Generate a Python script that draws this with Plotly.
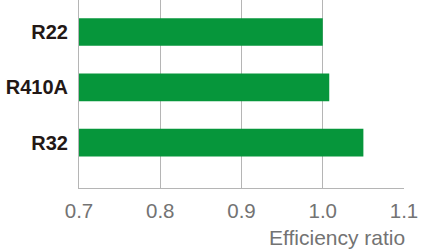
import plotly.graph_objects as go

categories = ["R22", "R410A", "R32"]
values = [1.0, 1.008, 1.05]
x_ticks = [0.7, 0.8, 0.9, 1.0, 1.1]
x_title = "Efficiency ratio"

fig = go.Figure(go.Bar(
    x=values, y=categories, orientation="h",
    marker=dict(color="#06963b", line=dict(width=0)),
    width=0.5,
))

fig.update_layout(
    width=421, height=251,
    margin=dict(l=78.5, r=16.7, t=0, b=62.7),
    plot_bgcolor="white", paper_bgcolor="white",
    showlegend=False,
    xaxis=dict(
        range=[0.7, 1.1], tickvals=x_ticks, ticktext=[f"{v:.1f}" for v in x_ticks],
        showgrid=True, gridcolor="#b5b5b5", gridwidth=1,
        showline=True, linecolor="#b5b5b5", linewidth=1,
        ticks="", zeroline=False,
        tickfont=dict(family="Liberation Sans", size=20.5, color="#737373"),
        ticklabelstandoff=4,
    ),
    yaxis=dict(
        type="category", range=[2.82, -0.578],
        showgrid=False, showline=True, linecolor="#b5b5b5", linewidth=1,
        ticks="", zeroline=False,
        tickfont=dict(family="Liberation Sans", size=20, color="#231815", weight="bold"),
        ticklabelstandoff=6,
    ),
    annotations=[dict(
        text=x_title, x=1, xref="paper", xanchor="right", xshift=3,
        y=0, yref="paper", yanchor="middle", yshift=-49,
        showarrow=False,
        font=dict(family="Liberation Sans", size=21, color="#737373"),
    )],
)

fig.write_html("out.html")
